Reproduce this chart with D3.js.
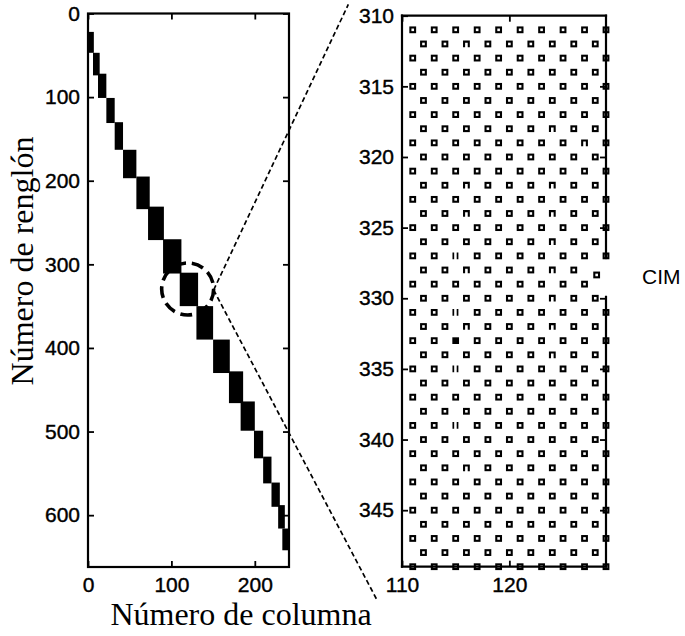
<!DOCTYPE html>
<html><head><meta charset="utf-8">
<script src="https://cdn.jsdelivr.net/npm/d3@7"></script>
<style>body{margin:0;background:#fff}</style>
</head><body>
<svg id="c" width="685" height="636"></svg>
<script>
// ---------- DATA ----------
// Left panel: block-diagonal structure (columns / rows ranges of each dense block)
const blockColStart = [0, 6, 12, 22, 32, 42, 58, 72, 90, 110, 130, 150, 169, 183, 199, 210, 220, 228, 233];
const blockColEnd   = [7, 14, 22, 32, 42, 58, 74, 91, 112, 132, 150, 170, 186, 200, 210, 220, 230, 236, 240];
const blockRowStart = [22, 47, 72, 101, 130, 163, 195, 231, 270, 310, 350, 390, 428, 464, 499, 530, 561, 588, 616];
const blockRowEnd   = [47, 74, 101, 131, 163, 197, 234, 271, 311, 350, 390, 430, 466, 499, 532, 562, 590, 616, 642];
const leftXTicks = [0, 100, 200];
const leftYTicks = [0, 100, 200, 300, 400, 500, 600];
const leftXDomain = [0, 241];
const leftYDomain = [0, 662];

// Right panel: zoom of the block rows 310-349, columns 110-129
const zoomXDomain = [110, 129];
const zoomYDomain = [310, 349];
const zoomCols = [111,112,113,114,115,116,117,118,119,120,121,122,123,124,125,126,127,128,129];
const zoomRows = [311,312,313,314,315,316,317,318,319,320,321,322,323,324,325,326,327,328,329,330,
                  331,332,333,334,335,336,337,338,339,340,341,342,343,344,345,346,347,348,349];
const rightXTicks = [110, 120];
const rightYTicks = [310, 315, 320, 325, 330, 335, 340, 345];
// cells drawn differently in the scan
const missingCells = [[329,129],[328,128]];
const shiftedCells = [[328.35,128.13]];
const filledCells  = [[333,115]];
const openCells    = [[312,116],[318,124],[319,127],[322,116],[322,124],[324,116],[324,124],[326,124],
                      [328,116],[328,124],[330,124],[332,116],[332,124],[334,124],[342,116]];
const barCells     = [[327,115],[331,115],[335,115],[339,115]];
// gap on the right border (rows)
const spineGap = [327.15, 329.9];
// zoom window shown on the left panel
const zoomCenter = [119.5, 329.5];
const connectorTop = [105, 309.2];
const connectorBottom = [107.7, 351.4];

// ---------- DRAW ----------
const svg = d3.select("#c");
const tickFont = "'Liberation Sans', Arial, sans-serif";
const serif = "'Liberation Serif', 'Times New Roman', serif";

const xL = d3.scaleLinear().domain(leftXDomain).range([88, 289]);
const yL = d3.scaleLinear().domain(leftYDomain).range([13.5, 567]);
const xR = d3.scaleLinear().domain(zoomXDomain).range([402, 606]);
const yR = d3.scaleLinear().domain(zoomYDomain).range([15.7, 566.7]);

function styleAxis(g){
  g.select(".domain").remove();
  g.selectAll(".tick line").attr("stroke","#000").attr("stroke-width",1.8);
  g.selectAll(".tick text").attr("font-family",tickFont).attr("font-size",21).attr("fill","#000")
   .attr("stroke","#000").attr("stroke-width",0.4);
}

// left panel blocks
const L = svg.append("g");
L.selectAll("rect.blk").data(blockColStart.map((c,i)=>({c0:c,c1:blockColEnd[i],r0:blockRowStart[i],r1:blockRowEnd[i]})))
 .join("rect").attr("class","blk")
 .attr("x",d=>xL(d.c0)).attr("y",d=>yL(d.r0))
 .attr("width",d=>xL(d.c1)-xL(d.c0)).attr("height",d=>yL(d.r1)-yL(d.r0))
 .attr("fill","#000");

// left axes
L.append("g").attr("transform",`translate(0,${yL.range()[1]})`)
 .call(d3.axisBottom(xL).tickValues(leftXTicks).tickSizeInner(-6).tickSizeOuter(0).tickPadding(10)).call(styleAxis);
L.append("g").attr("transform",`translate(0,${yL.range()[0]})`)
 .call(d3.axisTop(xL).tickValues(leftXTicks).tickFormat("").tickSizeInner(-6).tickSizeOuter(0)).call(styleAxis);
L.append("g").attr("transform",`translate(${xL.range()[0]},0)`)
 .call(d3.axisLeft(yL).tickValues(leftYTicks).tickSizeInner(-6).tickSizeOuter(0).tickPadding(8)).call(styleAxis);
L.append("g").attr("transform",`translate(${xL.range()[1]},0)`)
 .call(d3.axisRight(yL).tickValues(leftYTicks).tickFormat("").tickSizeInner(-6).tickSizeOuter(0)).call(styleAxis);
L.append("rect").attr("x",xL.range()[0]).attr("y",yL.range()[0])
 .attr("width",xL.range()[1]-xL.range()[0]).attr("height",yL.range()[1]-yL.range()[0])
 .attr("fill","none").attr("stroke","#000").attr("stroke-width",2.2);

// axis titles
svg.append("text").attr("x",241).attr("y",625).attr("text-anchor","middle")
 .attr("font-family",serif).attr("font-size",32).text("Número de columna");
svg.append("text").attr("transform","translate(33,261) rotate(-90)").attr("text-anchor","middle")
 .attr("font-family",serif).attr("font-size",32).text("Número de renglón");

// zoom circle and connectors
const cx = xL(zoomCenter[0]), cy = yL(zoomCenter[1]), rad = 26;
svg.append("circle").attr("cx",cx).attr("cy",cy).attr("r",rad)
 .attr("fill","none").attr("stroke","#000").attr("stroke-width",3.6).attr("stroke-dasharray","12,6");
const apex = [cx+rad, cy+1];
[connectorTop, connectorBottom].forEach(p=>{
  svg.append("line").attr("x1",apex[0]).attr("y1",apex[1]).attr("x2",xR(p[0])).attr("y2",yR(p[1]))
   .attr("stroke","#000").attr("stroke-width",1.7).attr("stroke-dasharray","5,3");
});

// right panel
const R = svg.append("g");
R.append("g").attr("transform",`translate(0,${yR.range()[1]})`)
 .call(d3.axisBottom(xR).tickValues(rightXTicks).tickSizeInner(-6).tickSizeOuter(0).tickPadding(10)).call(styleAxis);
R.append("g").attr("transform",`translate(0,${yR.range()[0]})`)
 .call(d3.axisTop(xR).tickValues(rightXTicks).tickFormat("").tickSizeInner(-6).tickSizeOuter(0)).call(styleAxis);
R.append("g").attr("transform",`translate(${xR.range()[0]},0)`)
 .call(d3.axisLeft(yR).tickValues(rightYTicks).tickSizeInner(-6).tickSizeOuter(0).tickPadding(8)).call(styleAxis);
R.append("g").attr("transform",`translate(${xR.range()[1]},0)`)
 .call(d3.axisRight(yR).tickValues(rightYTicks.slice(1)).tickFormat("").tickSizeInner(-6).tickSizeOuter(0)).call(styleAxis);
// frame (right border has a gap)
const fr = [
 [xR(zoomXDomain[0]),yR(zoomYDomain[0]),xR(zoomXDomain[1]),yR(zoomYDomain[0])],
 [xR(zoomXDomain[0]),yR(zoomYDomain[1]),xR(zoomXDomain[1]),yR(zoomYDomain[1])],
 [xR(zoomXDomain[0]),yR(zoomYDomain[0]),xR(zoomXDomain[0]),yR(zoomYDomain[1])],
 [xR(zoomXDomain[1]),yR(zoomYDomain[0]),xR(zoomXDomain[1]),yR(spineGap[0])],
 [xR(zoomXDomain[1]),yR(spineGap[1]),xR(zoomXDomain[1]),yR(zoomYDomain[1])]
];
R.selectAll("line.fr").data(fr).join("line").attr("class","fr")
 .attr("x1",d=>d[0]).attr("y1",d=>d[1]).attr("x2",d=>d[2]).attr("y2",d=>d[3])
 .attr("stroke","#000").attr("stroke-width",2.2).attr("stroke-linecap","square");

const key = (r,c)=>r+"_"+c;
const skip = new Set([...missingCells,...filledCells,...openCells,...barCells].map(d=>key(d[0],d[1])));
const cells = [];
zoomRows.forEach(r=>zoomCols.forEach(c=>{ if((r+c)%2===0 && !skip.has(key(r,c))) cells.push([r,c]); }));
const s = 4.7;
R.selectAll("rect.cell").data(cells.concat(shiftedCells)).join("rect").attr("class","cell")
 .attr("x",d=>xR(d[1])-s/2).attr("y",d=>yR(d[0])-s/2).attr("width",s).attr("height",s)
 .attr("fill","none").attr("stroke","#000").attr("stroke-width",2.1);
R.selectAll("rect.fill").data(filledCells).join("rect").attr("class","fill")
 .attr("x",d=>xR(d[1])-s/2-1).attr("y",d=>yR(d[0])-s/2-1).attr("width",s+2).attr("height",s+2).attr("fill","#000");
R.selectAll("path.open").data(openCells).join("path").attr("class","open")
 .attr("d",d=>{const x=xR(d[1]),y=yR(d[0]);return `M${x-s/2},${y+s/2+1}V${y-s/2}H${x+s/2}V${y+s/2+1}`;})
 .attr("fill","none").attr("stroke","#000").attr("stroke-width",2.1);
R.selectAll("path.bar").data(barCells).join("path").attr("class","bar")
 .attr("d",d=>{const x=xR(d[1]),y=yR(d[0]);return `M${x-s/2},${y-s/2-1}V${y+s/2+1}M${x+s/2-0.5},${y-s/2-1}V${y+s/2+1}`;})
 .attr("fill","none").attr("stroke","#000").attr("stroke-width",1.7);

svg.append("text").attr("x",642).attr("y",284).attr("font-family",tickFont).attr("font-size",21).text("CIM");
</script>
</body></html>
